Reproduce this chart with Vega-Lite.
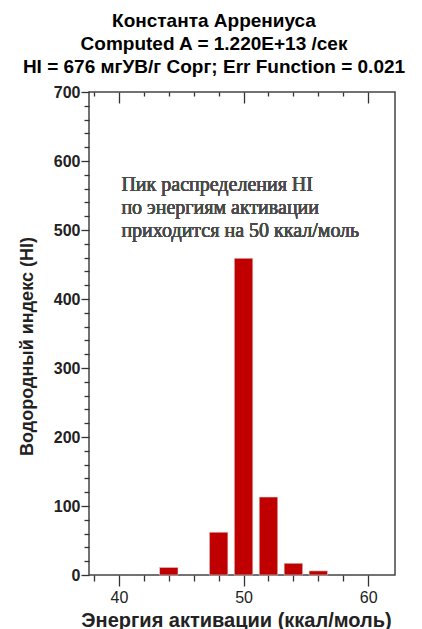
{
  "$schema": "https://vega.github.io/schema/vega-lite/v6.json",
  "width": 306,
  "height": 483,
  "autosize": {"type": "none"},
  "padding": {"left": 89, "top": 92, "right": 27, "bottom": 54},
  "background": "white",
  "config": {
    "view": {"stroke": "#444444", "strokeWidth": 1.5},
    "axis": {"grid": false, "domain": false, "tickColor": "#333333", "tickWidth": 1.3, "labelColor": "#222222", "labelFont": "Liberation Sans", "labelFontSize": 16, "titleFont": "Liberation Sans", "titleColor": "#222222"}
  },
  "title": {
    "text": ["Константа Аррениуса", "Computed A = 1.220E+13 /сек", "HI = 676 мгУВ/г Сорг; Err Function = 0.021"],
    "font": "Liberation Sans",
    "fontSize": 19,
    "fontWeight": "bold",
    "color": "#000000",
    "lineHeight": 23,
    "anchor": "middle",
    "dx": -28,
    "offset": 7
  },
  "data": {"values": [
    {"E": 44, "HI": 11},
    {"E": 48, "HI": 62},
    {"E": 50, "HI": 459},
    {"E": 52, "HI": 113},
    {"E": 54, "HI": 17},
    {"E": 56, "HI": 6}
  ]},
  "resolve": {"axis": {"x": "independent", "y": "independent"}},
  "layer": [
    {
      "mark": {"type": "bar", "width": 18.5, "color": "#C00000", "stroke": "#dddddd", "strokeWidth": 0.6},
      "encoding": {
        "x": {"field": "E", "type": "quantitative",
          "scale": {"domain": [38, 61.75], "nice": false, "zero": false},
          "axis": {"orient": "bottom", "values": [40, 50, 60], "tickSize": 11, "labelPadding": 3,
            "title": "Энергия активации (ккал/моль)", "titleFontSize": 20, "titleFontWeight": "bold",
            "titleX": 147, "titleY": 51, "titleBaseline": "alphabetic", "titleAlign": "center"}},
        "y": {"field": "HI", "type": "quantitative",
          "scale": {"domain": [0, 700], "nice": false},
          "axis": {"orient": "left", "values": [0, 100, 200, 300, 400, 500, 600, 700], "tickSize": 8, "labelPadding": 1,
            "labelFontWeight": "bold",
            "title": "Водородный индекс (HI)", "titleFontSize": 18, "titleFontWeight": "bold",
            "titleX": -62, "titleY": 254, "titleBaseline": "middle", "titleAlign": "center"}}
      }
    },
    {
      "mark": {"type": "text", "text": ""},
      "encoding": {
        "x": {"field": "E", "type": "quantitative",
          "axis": {"orient": "bottom", "values": [38, 42, 44, 46, 48, 52, 54, 56, 58], "tickSize": 6, "labels": false, "title": null}},
        "y": {"field": "HI", "type": "quantitative",
          "axis": {"orient": "left", "values": [20, 40, 60, 80, 120, 140, 160, 180, 220, 240, 260, 280, 320, 340, 360, 380, 420, 440, 460, 480, 520, 540, 560, 580, 620, 640, 660, 680], "tickSize": 5, "labels": false, "title": null}}
      }
    },
    {
      "mark": {"type": "text", "text": ""},
      "encoding": {
        "x": {"field": "E", "type": "quantitative",
          "axis": {"orient": "top", "values": [40, 50, 60], "tickSize": -11, "labels": false, "title": null}},
        "y": {"field": "HI", "type": "quantitative", "axis": null}
      }
    },
    {
      "mark": {"type": "text", "text": ""},
      "encoding": {
        "x": {"field": "E", "type": "quantitative",
          "axis": {"orient": "top", "values": [38, 42, 44, 46, 48, 52, 54, 56, 58], "tickSize": -4, "labels": false, "title": null}},
        "y": {"field": "HI", "type": "quantitative", "axis": null}
      }
    },
    {
      "mark": {"type": "text", "text": ["Пик распределения HI", "по энергиям активации", "приходится на 50 ккал/моль"],
        "font": "Liberation Serif", "fontSize": 20, "color": "#4a4a4a", "align": "left", "baseline": "top", "lineHeight": 23},
      "encoding": {
        "x": {"datum": 40.2, "type": "quantitative", "axis": null},
        "y": {"datum": 580, "type": "quantitative", "axis": null}
      }
    }
  ]
}
